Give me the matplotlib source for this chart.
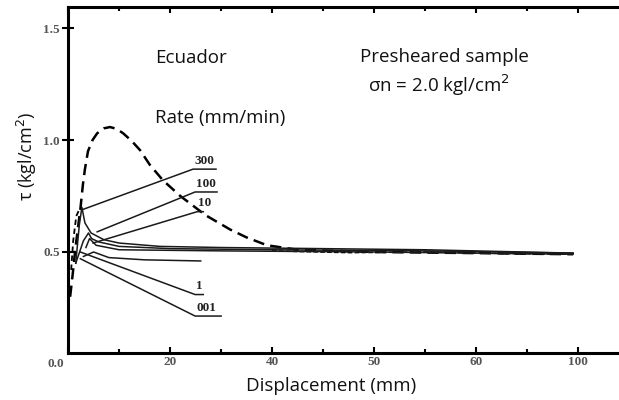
import matplotlib.pyplot as plt

# Данные (смещение, мм; tau, кгс/см2)
peak_x = [0.4, 0.9, 1.4, 2.0, 2.4, 2.9, 3.3, 3.9, 4.8, 5.7, 7, 8.2, 9.5, 10.8, 12.5, 14.1, 16, 18.6, 22, 26.9, 31.8, 35, 39, 45, 60, 80, 99]
peak_y = [0.30, 0.40, 0.51, 0.62, 0.69, 0.80, 0.87, 0.95, 1.00, 1.03, 1.052, 1.058, 1.05, 1.03, 0.995, 0.955, 0.89, 0.82, 0.75, 0.665, 0.60, 0.565, 0.53, 0.51, 0.50, 0.495, 0.49]

early_x = [0.6, 1.0, 1.6, 2.2]
early_y = [0.42, 0.55, 0.66, 0.69]

tail_x = [40, 55, 70, 85, 99]
tail_y = [0.505, 0.497, 0.50, 0.493, 0.49]

r300_x = [1.5, 2.2, 2.7, 3.3, 4.5, 7, 10, 18, 30, 50, 70, 99]
r300_y = [0.45, 0.62, 0.70, 0.63, 0.585, 0.555, 0.54, 0.525, 0.52, 0.515, 0.51, 0.495]

r100_x = [1.5, 3, 4, 4.6, 6, 10, 20, 40, 70, 99]
r100_y = [0.45, 0.55, 0.585, 0.56, 0.545, 0.525, 0.515, 0.51, 0.505, 0.495]

r10_x = [3.5, 4.2, 5.5, 10, 30, 60, 99]
r10_y = [0.52, 0.56, 0.53, 0.51, 0.505, 0.50, 0.49]

low_x = [3, 5, 8, 15, 26]
low_y = [0.48, 0.50, 0.475, 0.465, 0.46]

# выноски к подписям скоростей
rates = ['300', '100', '10', '1', '001']
lead_x = [[2.9, 24.5, 29.0], [5.7, 24.9, 29.2], [4.9, 25.3, 26.5], [2.4, 24.9, 26.5], [2.4, 24.9, 30.0]]
lead_y = [[0.69, 0.87, 0.87], [0.59, 0.768, 0.768], [0.54, 0.68, 0.68], [0.50, 0.31, 0.31], [0.47, 0.214, 0.214]]

fig = plt.figure(figsize=(6.19, 4), dpi=100)
ax = fig.add_axes([0.11, 0.1175, 0.89, 0.865])

ax.plot(peak_x, peak_y, 'k--', lw=1.8, dashes=(4.5, 2.5))
ax.plot(early_x, early_y, 'k--', lw=1.3, dashes=(3, 2))
ax.plot(tail_x, tail_y, 'k--', lw=1.1, dashes=(3, 1.5))
for xs, ys in [(r300_x, r300_y), (r100_x, r100_y), (r10_x, r10_y), (low_x, low_y)]:
    ax.plot(xs, ys, color='#1a1a1a', lw=1.1)

for name, xs, ys in zip(rates, lead_x, lead_y):
    ax.plot(xs, ys, color='#1a1a1a', lw=1.1)
    ax.text(xs[1] + 0.2, ys[1] + 0.01, name, fontsize=9.5, fontweight='bold',
            family='Liberation Serif', color='#222', ha='left', va='bottom')

ax.set_xlim(0, 108)
ax.set_ylim(0.049, 1.594)

ax.set_xticks([0, 20, 40, 60, 80, 100])
ax.set_xticklabels(['', '20', '40', '50', '60', '100'])
ax.set_xticks([10, 30, 50, 70, 90], minor=True)
ax.set_yticks([0.5, 1.0, 1.5])
ax.set_yticklabels(['0.5', '1.0', '1.5'])

for lab in ax.get_xticklabels() + ax.get_yticklabels():
    lab.set_family('Liberation Serif')
    lab.set_fontweight('bold')
    lab.set_color('#555')
    lab.set_fontsize(9.5)

ax.tick_params(axis='x', which='both', direction='in', top=True, length=4, width=1.5, pad=2)
ax.tick_params(axis='x', which='minor', length=3)
ax.tick_params(axis='y', direction='inout', length=8, width=1.5, pad=2)

ax.spines['right'].set_visible(False)
for s in ['left', 'bottom', 'top']:
    ax.spines[s].set_linewidth(2.2)

ax.text(-2.5, 0.0, '0.0', transform=ax.transData, fontsize=9.5, fontweight='bold',
        family='Liberation Serif', color='#555', ha='center', va='center', clip_on=False)

ax.set_xlabel('Displacement (mm)', fontsize=13.5, family='Open Sans', color='#111')
ax.xaxis.set_label_coords(0.477, -0.07)
ax.set_ylabel('τ (kgl/cm$^2$)', fontsize=13, family='Open Sans', color='#111')
ax.yaxis.set_label_coords(-0.052, 0.57)

ax.text(17.1, 1.345, 'Ecuador', fontsize=13.5, family='Open Sans', color='#111')
ax.text(17.1, 1.076, 'Rate (mm/min)', fontsize=13.5, family='Open Sans', color='#111')
ax.text(57.3, 1.35, 'Presheared sample', fontsize=13.5, family='Open Sans', color='#111')
ax.text(58.8, 1.214, 'σn = 2.0 kgl/cm$^2$', fontsize=13.5, family='Open Sans', color='#111')

fig.savefig('out.png', dpi=100)
